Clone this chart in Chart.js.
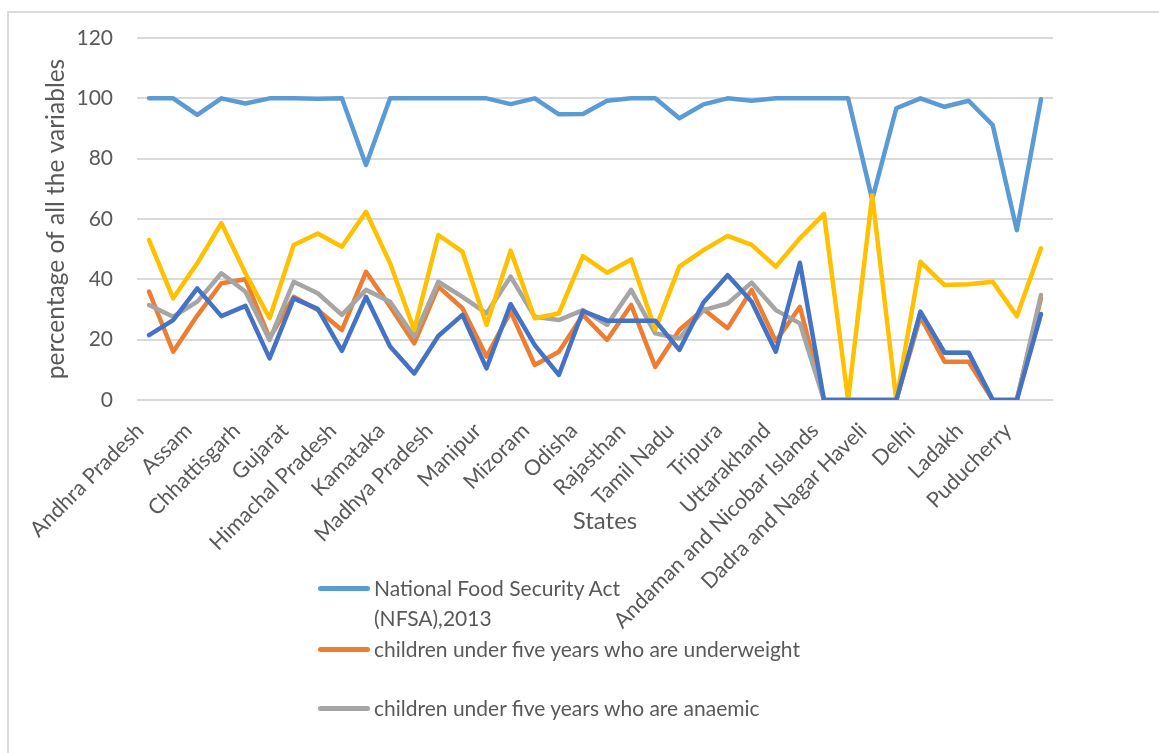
<!DOCTYPE html>
<html>
<head>
<meta charset="utf-8">
<script src="https://cdn.jsdelivr.net/npm/chart.js@4.4.1/dist/chart.umd.min.js"></script>
<style>
  html, body { margin: 0; padding: 0; background: #ffffff; }
  #wrap { position: relative; width: 1159px; height: 753px; overflow: hidden; font-family: Lato, "Open Sans", sans-serif; color: #595959; }
  #c { position: absolute; left: 0; top: 0; }
  #frame { position: absolute; left: 7px; top: 11px; width: 1200px; height: 800px; border-top: 2px solid #dadada; border-left: 2px solid #dadada; }
  #xtitle { position: absolute; left: 505px; width: 200px; text-align: center; top: 505px; font-size: 24px; line-height: 30px; }
  .leg { position: absolute; left: 318px; font-size: 21px; line-height: 30px; white-space: nowrap; }
  .leg .sw { position: absolute; left: 0; top: 13px; width: 52px; height: 5px; border-radius: 3px; }
  .leg .tx { position: absolute; left: 56px; top: 0; }
</style>
</head>
<body>
<div id="wrap">
  <div id="frame"></div>
  <canvas id="c" width="1159" height="753"></canvas>
  <div id="xtitle">States</div>
  <div class="leg" style="top:573px"><div class="sw" style="background:#5B9BD5"></div><div class="tx">National Food Security Act<br>(NFSA),2013</div></div>
  <div class="leg" style="top:634px"><div class="sw" style="background:#ED7D31"></div><div class="tx">children under five years who are underweight</div></div>
  <div class="leg" style="top:693px"><div class="sw" style="background:#A5A5A5"></div><div class="tx">children under five years who are anaemic</div></div>
</div>
<script>
const categories = ["Andhra Pradesh","Arunachal Pradesh","Assam","Bihar","Chhattisgarh","Goa","Gujarat","Haryana","Himachal Pradesh","Jharkhand","Kamataka","Kerala","Madhya Pradesh","Maharashtra","Manipur","Meghalaya","Mizoram","Nagaland","Odisha","Punjab","Rajasthan","Sikkim","Tamil Nadu","Telangana","Tripura","Uttar Pradesh","Uttarakhand","West Bengal","Andaman and Nicobar Islands","Chandigarh","Dadra and Nagar Haveli","Daman and Diu","Delhi","Jammu and Kashmir","Ladakh","Lakshadweep","Puducherry","India"];

const nfsa = [100,100,94.5,100,98.3,100,100,99.9,100,77.9, 100,100,100,100,100,98.1,100,94.7,94.8,99.2, 100,100,93.4,98,100,99.2,100,100,100,100, 66.5,96.7,100,97.2,99.2,91.1,56.3,99.7];
const underweight = [35.9,16,28,38.7,40,20.5,34.2,29.8,23.2,42.5, 31,18.8,37.6,30.4,14.4,29.3,11.6,16,28.2,19.9, 31.5,11,23.2,30.1,23.8,36.5,19.5,30.9,0,0, 0,0,27.6,12.7,12.7,0,0,33.7];
const anaemic = [31.5,27.6,32.6,42,35.9,19.9,39.2,35.4,28.2,36.5, 32.6,21,39.2,34.2,28.7,40.9,27.6,26.5,29.8,24.9, 36.5,22.1,20.4,29.8,32,38.9,29.8,25.4,0,0, 0,0,29,15.7,15.7,0,0,34.8];
const series4 = [53,33.7,45.3,58.6,42,27.1,51.4,55.2,50.8,62.4, 45.3,23.2,54.7,49.2,24.9,49.5,27.1,28.7,47.7,42.2, 46.6,23.4,44.2,49.7,54.4,51.4,44.2,53.6,61.7,0, 67.9,0,45.8,38.1,38.4,39.2,27.8,50.3];
const series5 = [21.5,26.5,37,27.8,31.2,13.8,33.7,30.2,16.3,34.2, 17.7,8.8,21.2,28.2,10.5,31.8,18.2,8.3,29.5,26.3, 26.3,26.3,16.6,32.3,41.4,32.6,16,45.5,0,0, 0,0,29.3,15.7,15.7,0,0,28.5];

const yTicks = [0,20,40,60,80,100,120];
const seriesNames = ["National Food Security Act (NFSA),2013","children under five years who are underweight","children under five years who are anaemic","Series 4","Series 5"];

const txt = '#595959';
function ds(label, data, color, order) {
  return { label, data, borderColor: color, backgroundColor: color, borderWidth: 4.5,
           pointRadius: 0, pointHoverRadius: 0, tension: 0, fill: false,
           borderCapStyle: 'round', borderJoinStyle: 'round', order };
}

new Chart(document.getElementById('c'), {
  type: 'line',
  data: {
    labels: categories,
    datasets: [
      ds(seriesNames[0], nfsa, '#5B9BD5', 5),
      ds(seriesNames[1], underweight, '#ED7D31', 4),
      ds(seriesNames[2], anaemic, '#A5A5A5', 3),
      ds(seriesNames[3], series4, '#FFC000', 2),
      ds(seriesNames[4], series5, '#4472C4', 1)
    ]
  },
  options: {
    responsive: false,
    animation: false,
    devicePixelRatio: 1,
    layout: { padding: { left: 41, right: 106, top: 38, bottom: 0 } },
    plugins: { legend: { display: false }, tooltip: { enabled: false } },
    scales: {
      x: {
        type: 'category',
        offset: true,
        grid: { display: false, drawTicks: false },
        border: { display: false },
        ticks: {
          autoSkip: false, maxRotation: 45, minRotation: 45, padding: 18, labelOffset: -9,
          color: txt, font: { family: 'Lato', size: 21.5 },
          callback: function(v, i) { return i % 2 === 0 ? categories[i] : ''; }
        },
        afterFit: function(s) { s.height = 353; }
      },
      y: {
        min: yTicks[0], max: yTicks[yTicks.length - 1],
        afterBuildTicks: function(s) { s.ticks = yTicks.map(v => ({ value: v })); },
        grid: { color: '#d9d9d9', lineWidth: 2, drawTicks: false },
        border: { display: false },
        ticks: { color: txt, font: { family: 'Lato', size: 21 }, padding: 24 },
        title: { display: true, text: 'percentage of all the variables', color: txt,
                 font: { family: 'Lato', size: 24.5 }, padding: { top: 0, bottom: 0 } },
        afterFit: function(s) { s.width = 96; }
      }
    }
  }
});
</script>
</body>
</html>
